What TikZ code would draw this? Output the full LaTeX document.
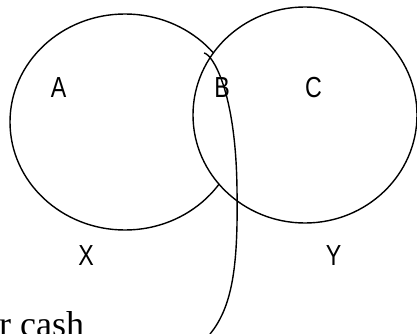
\documentclass[tikz,border=0pt]{standalone}
\usepackage{fontspec}
\newfontfamily\labelfont{Liberation Sans}
\newfontfamily\captionfont{Liberation Serif}
\tikzset{
  setline/.style={line width=1.4pt},
  setlabel/.style={inner sep=0pt, font=\labelfont\fontsize{29}{29}\selectfont, xscale=0.8, transform shape},
}
\begin{document}
\begin{tikzpicture}[x=1pt, y=-1pt]
  \useasboundingbox (0,0) rectangle (417,334);
  \begin{scope}
    \clip (0,0) rectangle (417,334);
    % set X, then set Y drawn over it with a white fill
    \draw[setline] (125,122) ellipse [x radius=115, y radius=108];
    \draw[setline, fill=white] (305,115) ellipse [x radius=112, y radius=108];
    % region labels
    \node[setlabel] (a) at (58.5,87.5) {A};
    \node[setlabel] (b) at (222,87.5) {B};
    \node[setlabel] (c) at (313.5,87.5) {C};
    \node[setlabel] (x) at (86,256) {X};
    \node[setlabel] (y) at (333.5,256) {Y};
    % caption fragment and the stroke leading to it
    \node[anchor=base west, inner sep=0pt, font=\captionfont\fontsize{36}{36}\selectfont] (cash) at (-1,336) {r cash};
    \coordinate (hook) at (204,53);
    \coordinate (tail) at (210,334);
    \draw[setline] (hook) .. controls (212,54) and (236,90) .. (237,190)
                         .. controls (238,260) and (234,305) .. (tail);
  \end{scope}
\end{tikzpicture}
\end{document}
